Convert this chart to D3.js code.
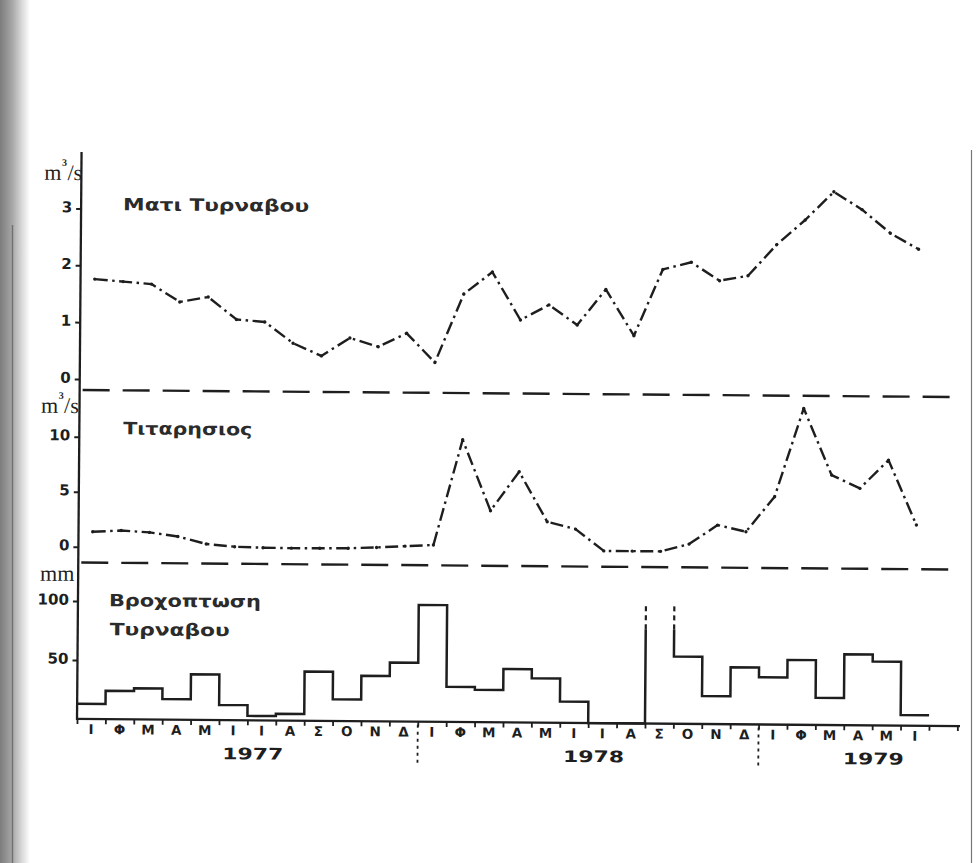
<!DOCTYPE html>
<html>
<head>
<meta charset="utf-8">
<script src="https://cdn.jsdelivr.net/npm/d3@7"></script>
<style>
  html, body { margin: 0; padding: 0; background: #fff; }
  svg { display: block; }
</style>
</head>
<body>
<div id="chart"></div>
<script>
// Month initials, January 1977 – June 1979
const monthLabels = [
  "Ι","Φ","Μ","Α","Μ","Ι","Ι","Α","Σ","Ο","Ν","Δ",
  "Ι","Φ","Μ","Α","Μ","Ι","Ι","Α","Σ","Ο","Ν","Δ",
  "Ι","Φ","Μ","Α","Μ","Ι"
];
const years = ["1977", "1978", "1979"];

// Μάτι Τυρνάβου spring discharge (m3/s), monthly
const matiFlow = [
  1.76, 1.72, 1.68, 1.37, 1.46, 1.07, 1.03, 0.66, 0.44, 0.76, 0.61, 0.85,
  0.34, 1.55, 1.94, 1.10, 1.37, 1.02, 1.65, 0.84, 2.01, 2.14, 1.82, 1.91,
  2.46, 2.90, 3.40, 3.09, 2.68, 2.40
];

// Τιταρήσιος river discharge (m3/s), monthly
const titarisiosFlow = [
  1.37, 1.50, 1.35, 1.00, 0.34, 0.11, 0.04, 0.02, 0.03, 0.05, 0.15, 0.29,
  0.41, 10.0, 3.57, 7.14, 2.61, 1.96, 0.00, 0.00, 0.00, 0.68, 2.43, 1.85,
  5.05, 13.1, 7.06, 5.87, 8.46, 2.58
];

// Monthly rainfall at Tyrnavos (mm); September 1978 runs off the scale
const rainfall = [
  12.8, 24.2, 26.4, 17.4, 38.7, 12.9, 3.8, 5.7, 41.7, 18.5, 38.5, 49.9,
  99.0, 29.9, 27.4, 45.3, 37.6, 18.1, 0, 0, null, 56.9, 23.8, 48.3,
  40.0, 54.9, 23.1, 60.1, 54.1, 9.0
];

const matiTicks = [0, 1, 2, 3];
const titarisiosTicks = [0, 5, 10];
const rainTicks = [50, 100];

// ---------------------------------------------------------------------------
const W = 977, H = 863;
const INK = "#1e1e1e";
const BOLD = "'DejaVu Sans', 'Liberation Sans', sans-serif";
const SERIF = "'Liberation Serif', 'DejaVu Serif', serif";

const svg = d3.select("#chart").append("svg")
  .attr("width", W).attr("height", H);

// paper, with the shaded binding edge on the left
const defs = svg.append("defs");
const edge = defs.append("linearGradient").attr("id", "edge")
  .attr("x1", 0).attr("x2", 1).attr("y1", 0).attr("y2", 0);
[["0%", "#7c7c7c"], ["40%", "#a6a6a6"], ["75%", "#dcdcdc"], ["100%", "#ffffff"]]
  .forEach(([o, c]) => edge.append("stop").attr("offset", o).attr("stop-color", c));
svg.append("rect").attr("width", W).attr("height", H).attr("fill", "#fff");
svg.append("rect").attr("x", 0).attr("y", 0).attr("width", 30).attr("height", H)
  .attr("fill", "url(#edge)");
svg.append("line").attr("x1", 12.5).attr("x2", 12.5).attr("y1", 225).attr("y2", H)
  .attr("stroke", "#444").attr("stroke-opacity", 0.55).attr("stroke-width", 1.4);
svg.append("line").attr("x1", 971.5).attr("x2", 971.5).attr("y1", 150).attr("y2", H)
  .attr("stroke", "#777").attr("stroke-width", 1.2);

// the whole figure sits slightly turned on the page
const g = svg.append("g").attr("transform", "rotate(0.46,80,720)");

// scales
const nMonths = monthLabels.length;
const xm = d3.scaleLinear().domain([0, nMonths]).range([77, 929]);
const yMati = d3.scaleLinear().domain([0, 3]).range([379, 208.5]);
const yTit = d3.scaleLinear().domain([0, 10]).range([546.7, 436.7]);
const yRain = d3.scaleLinear().domain([0, 100]).range([719, 601]);

const AXIS_X = xm(0), AXIS_END = 960, BASE_Y = yRain(0);

// axes frame
g.append("line").attr("x1", AXIS_X).attr("x2", AXIS_X).attr("y1", 152).attr("y2", BASE_Y + 1)
  .attr("stroke", INK).attr("stroke-width", 2.3);
g.append("line").attr("x1", AXIS_X - 1).attr("x2", AXIS_END).attr("y1", BASE_Y).attr("y2", BASE_Y)
  .attr("stroke", INK).attr("stroke-width", 2.3);

// long-dash separators between the panels
[390, 562.5].forEach(yy => {
  g.append("line").attr("x1", AXIS_X + 3).attr("x2", AXIS_END).attr("y1", yy).attr("y2", yy)
    .attr("stroke", INK).attr("stroke-width", 2.4).attr("stroke-dasharray", "27,13");
});

// y axes
function yAxis(scale, ticks) {
  const ax = g.append("g").attr("transform", `translate(${AXIS_X},0)`)
    .call(d3.axisLeft(scale).tickValues(ticks).tickSize(5).tickPadding(4).tickFormat(d3.format("d")));
  ax.select(".domain").remove();
  ax.selectAll(".tick line").attr("stroke", INK).attr("stroke-width", 2);
  ax.selectAll(".tick text")
    .attr("fill", INK).attr("dy", "0.22em")
    .style("font-family", BOLD).style("font-weight", "bold").style("font-size", "15px");
}
yAxis(yMati, matiTicks);
yAxis(yTit, titarisiosTicks);
yAxis(yRain, rainTicks);

// unit labels; for discharge the cube is raised next to the slash
function unit(x0, yb, cubic) {
  const t = g.append("text").attr("x", x0).attr("y", yb)
    .style("font-family", SERIF).style("font-size", "22px").attr("fill", INK);
  if (cubic) {
    t.append("tspan").text("m");
    t.append("tspan").text("3").attr("dy", -14).attr("dx", 0.5)
      .style("font-size", "10px").style("font-weight", "bold");
    t.append("tspan").text("/s").attr("dy", 14).attr("dx", 0.5);
  } else {
    t.text("mm");
  }
}
unit(40, 180, true);
unit(38.5, 413, true);
unit(39, 581, false);

// month ticks and initials along the time axis
const tickAx = g.append("g").attr("transform", `translate(0,${BASE_Y})`)
  .call(d3.axisBottom(xm).tickValues(d3.range(0, nMonths + 2)).tickSize(5).tickFormat(""));
tickAx.select(".domain").remove();
tickAx.selectAll(".tick line").attr("stroke", INK).attr("stroke-width", 1.8);

g.append("g").selectAll("text").data(monthLabels).join("text")
  .attr("x", (d, i) => xm(i + 0.5)).attr("y", 734)
  .attr("text-anchor", "middle").text(d => d)
  .style("font-family", BOLD).style("font-weight", "bold").style("font-size", "13.5px")
  .attr("fill", INK);

// year boundaries and year labels
[12, 24].forEach(i => {
  g.append("line").attr("x1", xm(i)).attr("x2", xm(i)).attr("y1", BASE_Y + 3).attr("y2", BASE_Y + 44)
    .attr("stroke", INK).attr("stroke-width", 1.8).attr("stroke-dasharray", "3,4");
});
const yearCenters = [6.2, 18.2, 28.05];
g.append("g").selectAll("text").data(years).join("text")
  .attr("x", (d, i) => xm(yearCenters[i])).attr("y", 758)
  .attr("text-anchor", "middle").text(d => d)
  .attr("textLength", 61).attr("lengthAdjust", "spacingAndGlyphs")
  .style("font-family", BOLD).style("font-weight", "bold").style("font-size", "16px")
  .attr("fill", INK);

// panel titles
function title(txt, x0, yb, width) {
  g.append("text").attr("x", x0).attr("y", yb).text(txt)
    .attr("textLength", width).attr("lengthAdjust", "spacingAndGlyphs")
    .style("font-family", BOLD).style("font-weight", "bold").style("font-size", "17px")
    .attr("fill", "#2b2b2b");
}
title("Ματι Τυρναβου", 119, 210, 186);
title("Τιταρησιος", 121, 434, 129);
title("Βροχοπτωση", 108, 606, 152);
title("Τυρναβου", 109, 635, 120);

// discharge curves: dash-dot lines with a dot on each monthly value
function flowCurve(values, y) {
  const cx = (d, i) => xm(i + 0.5);
  const line = d3.line().x(cx).y(d => y(d));
  g.append("path").attr("d", line(values))
    .attr("fill", "none").attr("stroke", INK).attr("stroke-width", 2.4)
    .attr("stroke-dasharray", "13,4.5,2.5,4.5").attr("stroke-linejoin", "round");
  g.append("g").selectAll("circle").data(values).join("circle")
    .attr("cx", cx).attr("cy", d => y(d)).attr("r", 1.7).attr("fill", INK);
}
flowCurve(matiFlow, yMati);
flowCurve(titarisiosFlow, yTit);

// rainfall as a monthly step outline; off-scale months get broken edges
const RAIN_TOP = 100, BREAK_AT = 80;
const step = d3.line().x(d => xm(d[0])).y(d => yRain(d[1])).curve(d3.curveStepAfter);
const runs = [];
let run = null;
rainfall.forEach((v, i) => {
  if (v === null) { run = null; return; }
  if (!run) { run = []; runs.push(run); }
  run.push([i, v]);
});
runs.forEach(r => {
  const pts = r.slice();
  const first = r[0], last = r[r.length - 1];
  if (first[0] > 0 && rainfall[first[0] - 1] === null) pts.unshift([first[0], BREAK_AT]);
  pts.push([last[0] + 1, last[1]]);
  if (last[0] + 1 < nMonths && rainfall[last[0] + 1] === null) pts.push([last[0] + 1, BREAK_AT]);
  g.append("path").attr("d", step(pts))
    .attr("fill", "none").attr("stroke", INK).attr("stroke-width", 2.5);
});
rainfall.forEach((v, i) => {
  if (v !== null) return;
  [i, i + 1].forEach(e => {
    g.append("line").attr("x1", xm(e)).attr("x2", xm(e))
      .attr("y1", yRain(BREAK_AT)).attr("y2", yRain(RAIN_TOP))
      .attr("stroke", INK).attr("stroke-width", 2.2).attr("stroke-dasharray", "5,4");
  });
});
</script>
</body>
</html>
